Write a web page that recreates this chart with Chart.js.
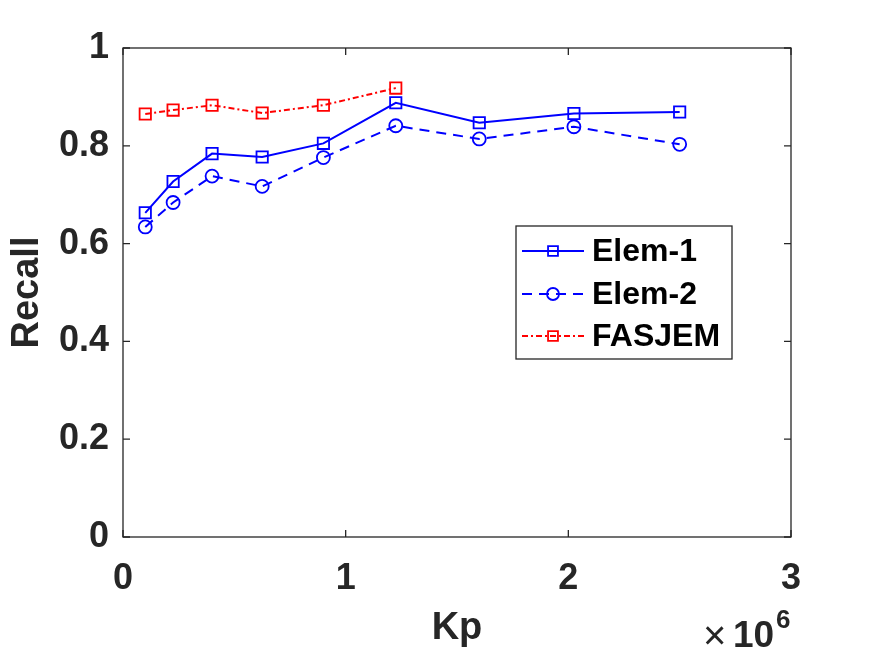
<!DOCTYPE html>
<html>
<head>
<meta charset="utf-8">
<script src="https://cdn.jsdelivr.net/npm/chart.js@4.4.1/dist/chart.umd.min.js"></script>
<style>
html,body{margin:0;padding:0;background:#fff;}
#wrap{width:875px;height:656px;position:relative;}
</style>
</head>
<body>
<div id="wrap"><canvas id="c" width="875" height="656"></canvas></div>
<script>
// ---- data ----
const kpValues = [100000, 225000, 400000, 625000, 900000, 1225000, 1600000, 2025000, 2500000];
const elem1 = [0.663, 0.727, 0.784, 0.777, 0.805, 0.888, 0.847, 0.866, 0.869];
const elem2 = [0.634, 0.684, 0.738, 0.717, 0.776, 0.841, 0.814, 0.839, 0.803];
const fasjem = [0.865, 0.873, 0.883, 0.867, 0.883, 0.918];
const seriesNames = ['Elem-1', 'Elem-2', 'FASJEM'];
const xTickLabels = ['0', '1', '2', '3'];
const yTickLabels = ['0', '0.2', '0.4', '0.6', '0.8', '1'];

const toPts = (ys) => ys.map((y, i) => ({x: kpValues[i], y: y}));
const AX = '#262626';
const FONT = '"Liberation Sans", Arial, Helvetica, sans-serif';

const datasets = [
  {label: seriesNames[0], data: toPts(elem1), borderColor: '#0000ff', borderWidth: 2,
   pointStyle: 'rect', pointRadius: 8, pointBorderWidth: 1.8, pointBorderColor: '#0000ff',
   pointBackgroundColor: 'rgba(0,0,0,0)', borderDash: [], fill: false, tension: 0},
  {label: seriesNames[1], data: toPts(elem2), borderColor: '#0000ff', borderWidth: 2,
   pointStyle: 'circle', pointRadius: 6.5, pointBorderWidth: 1.8, pointBorderColor: '#0000ff',
   pointBackgroundColor: 'rgba(0,0,0,0)', borderDash: [10, 7], fill: false, tension: 0},
  {label: seriesNames[2], data: toPts(fasjem), borderColor: '#ff0000', borderWidth: 2,
   pointStyle: 'rect', pointRadius: 8, pointBorderWidth: 1.8, pointBorderColor: '#ff0000',
   pointBackgroundColor: 'rgba(0,0,0,0)', borderDash: [6, 3, 2, 3], fill: false, tension: 0}
];

const boxPlugin = {
  id: 'matlabBox',
  afterDraw(chart) {
    const ctx = chart.ctx, a = chart.chartArea;
    const xs = chart.scales.x, ys = chart.scales.y;
    ctx.save();
    ctx.strokeStyle = AX; ctx.lineWidth = 1.3;
    ctx.strokeRect(a.left, a.top, a.right - a.left, a.bottom - a.top);
    const tl = 7;
    ctx.beginPath();
    xs.ticks.forEach(t => {
      const p = xs.getPixelForValue(t.value);
      ctx.moveTo(p, a.bottom); ctx.lineTo(p, a.bottom - tl);
      ctx.moveTo(p, a.top); ctx.lineTo(p, a.top + tl);
    });
    ys.ticks.forEach(t => {
      const p = ys.getPixelForValue(t.value);
      ctx.moveTo(a.left, p); ctx.lineTo(a.left + tl, p);
      ctx.moveTo(a.right, p); ctx.lineTo(a.right - tl, p);
    });
    ctx.stroke();

    // exponent label
    ctx.fillStyle = AX;
    ctx.textBaseline = 'alphabetic';
    ctx.textAlign = 'left';
    ctx.font = '40px ' + FONT;
    ctx.fillText('\u00d7', 703, 649);
    ctx.font = 'bold 37px ' + FONT;
    ctx.fillText('10', 733, 647);
    ctx.font = 'bold 26px ' + FONT;
    ctx.fillText('6', 776, 628);

    // legend
    const lx = 516, ly = 226, lw = 216, lh = 133;
    ctx.fillStyle = '#ffffff';
    ctx.fillRect(lx, ly, lw, lh);
    ctx.strokeStyle = AX; ctx.lineWidth = 1.3;
    ctx.strokeRect(lx, ly, lw, lh);
    const rows = [251, 294, 336];
    chart.data.datasets.forEach((ds, i) => {
      const y = rows[i];
      ctx.save();
      ctx.strokeStyle = ds.borderColor; ctx.lineWidth = ds.borderWidth;
      ctx.setLineDash(ds.borderDash || []);
      ctx.beginPath(); ctx.moveTo(522, y); ctx.lineTo(584, y); ctx.stroke();
      ctx.setLineDash([]);
      ctx.lineWidth = ds.pointBorderWidth;
      ctx.fillStyle = 'rgba(0,0,0,0)';
      Chart.helpers.drawPoint(ctx, {pointStyle: ds.pointStyle, rotation: 0,
        borderWidth: ds.pointBorderWidth, radius: ds.pointStyle === 'rect' ? 7 : 6}, 553, y);
      ctx.restore();
      ctx.fillStyle = '#000000';
      ctx.font = 'bold 32px ' + FONT;
      ctx.textAlign = 'left'; ctx.textBaseline = 'middle';
      ctx.fillText(ds.label, 592, y + 1);
    });
    ctx.restore();
  }
};

new Chart(document.getElementById('c'), {
  type: 'line',
  data: {datasets: datasets},
  options: {
    responsive: false,
    animation: false,
    devicePixelRatio: 1,
    layout: {padding: {top: 48, right: 84, left: 0, bottom: 0}},
    plugins: {legend: {display: false}, tooltip: {enabled: false}},
    scales: {
      x: {
        type: 'linear', min: 0, max: 3000000,
        afterFit(s) { s.height = 119; },
        afterBuildTicks(s) { s.ticks = xTickLabels.map((l, i) => ({value: i * 1000000})); },
        ticks: {
          callback: (v, i) => xTickLabels[i],
          color: AX, padding: 20, maxRotation: 0,
          font: {family: FONT, size: 36, weight: 'bold'}
        },
        grid: {display: false, drawTicks: false},
        border: {display: false},
        title: {display: true, text: 'Kp', color: AX, padding: {top: 0, bottom: 5},
          font: {family: FONT, size: 38, weight: 'bold'}}
      },
      y: {
        type: 'linear', min: 0, max: 1,
        afterFit(s) { s.width = 123; },
        afterBuildTicks(s) { s.ticks = yTickLabels.map((l, i) => ({value: i * 0.2})); },
        ticks: {
          callback: (v, i) => yTickLabels[i],
          color: AX, padding: 14,
          font: {family: FONT, size: 36, weight: 'bold'}
        },
        grid: {display: false, drawTicks: false},
        border: {display: false},
        title: {display: true, text: 'Recall', color: AX, padding: {top: 5, bottom: 0},
          font: {family: FONT, size: 38, weight: 'bold'}}
      }
    }
  },
  plugins: [boxPlugin]
});
</script>
</body>
</html>
